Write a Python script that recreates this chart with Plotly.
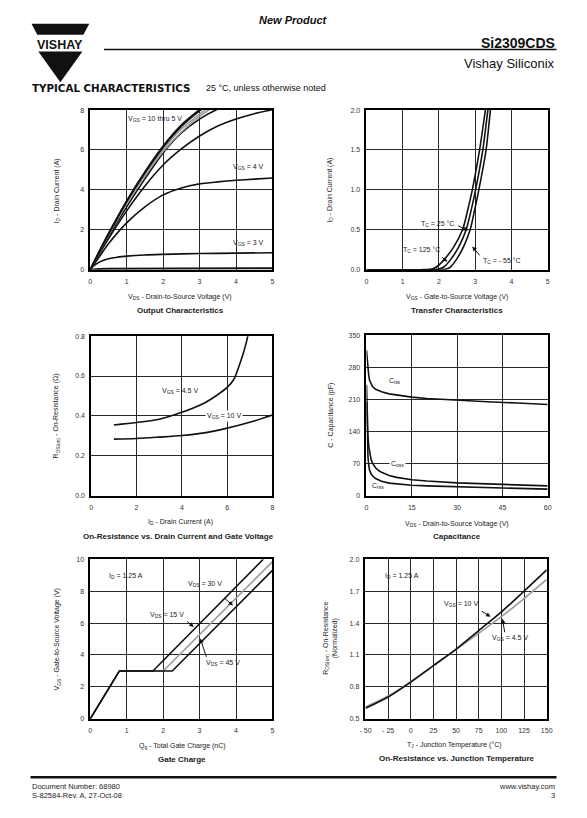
import plotly.graph_objects as go

W, H = 587, 818
FONT = "Liberation Sans, Arial, sans-serif"
BLACK = "#111111"
GREY = "#9a9a9a"
GRID = "#2a2a2a"

# ---------------- data ----------------
# Output characteristics
vds_out = [0, 0.25, 0.5, 1, 1.5, 2, 2.5, 3, 3.5, 4, 4.5, 5]
id_vgs10 = [0, 0.92, 1.80, 3.45, 4.90, 6.20, 7.25, 8.02, 8.70, 9.20, 9.60, 9.90]
id_vgs8 = [0, 0.91, 1.78, 3.42, 4.86, 6.14, 7.18, 7.96, 8.60, 9.10, 9.50, 9.80]
id_vgs6 = [0, 0.90, 1.75, 3.36, 4.78, 6.03, 7.05, 7.80, 8.45, 8.95, 9.35, 9.70]
id_vgs5 = [0, 0.89, 1.72, 3.30, 4.70, 5.92, 6.90, 7.68, 8.30, 8.80, 9.20, 9.50]
id_vgs45 = [0, 0.85, 1.65, 3.15, 4.55, 5.85, 6.85, 7.55, 8.05, 8.40, 8.70, 8.90]
id_vgs42 = [0, 0.80, 1.55, 2.95, 4.20, 5.25, 6.05, 6.70, 7.20, 7.55, 7.82, 8.02]
id_vgs4 = [0, 0.65, 1.30, 2.35, 3.15, 3.75, 4.10, 4.30, 4.40, 4.48, 4.54, 4.60]
vds_low = [0, 0.1, 0.25, 0.5, 0.75, 1, 1.5, 2, 3, 4, 5]
id_vgs3 = [0, 0.20, 0.38, 0.55, 0.63, 0.68, 0.74, 0.77, 0.81, 0.83, 0.85]
id_vgs2 = [0, 0.02, 0.04, 0.05, 0.05, 0.05, 0.05, 0.05, 0.07, 0.06, 0.07]

# Transfer characteristics
vgs_125 = [0, 1.5, 1.8, 1.95, 2.13, 2.4, 2.65, 2.8, 2.92, 3.12, 3.28, 3.4]
id_125 = [0, 0, 0.008, 0.04, 0.12, 0.28, 0.50, 0.76, 1.0, 1.5, 2.0, 2.4]
vgs_25 = [0, 1.7, 2.0, 2.15, 2.31, 2.55, 2.75, 2.89, 3.01, 3.21, 3.35, 3.45]
id_25 = [0, 0, 0.008, 0.04, 0.12, 0.29, 0.50, 0.75, 1.0, 1.5, 2.0, 2.3]
vgs_m55 = [0, 1.9, 2.2, 2.33, 2.47, 2.68, 2.86, 2.99, 3.1, 3.3, 3.42, 3.5]
id_m55 = [0, 0, 0.008, 0.04, 0.12, 0.29, 0.50, 0.76, 1.0, 1.5, 2.0, 2.3]

# On-resistance vs drain current
id_r45 = [1, 2, 3, 4, 5, 5.5, 6, 6.3, 6.5, 6.7, 6.85, 6.95]
r_45 = [0.355, 0.367, 0.383, 0.418, 0.465, 0.50, 0.543, 0.584, 0.642, 0.709, 0.77, 0.82]
id_r10 = [1, 2, 3, 4, 5, 6, 7, 8]
r_10 = [0.284, 0.287, 0.294, 0.302, 0.315, 0.339, 0.368, 0.405]

# Capacitance
vds_ciss = [0, 0.25, 0.5, 0.75, 1, 1.5, 2, 3, 4, 5, 7.5, 10, 15, 20, 30, 40, 50, 60]
c_iss = [317, 295, 275, 262, 252, 243, 238, 232, 229, 226.5, 222, 219.5, 215, 212, 208, 205, 202, 199]
vds_c = [0, 0.15, 0.3, 0.5, 0.75, 1, 1.5, 2, 3, 4, 5, 7.5, 10, 15, 20, 30, 45, 60]
c_oss = [242, 200, 165, 130, 108, 95, 80, 71, 61, 55, 51, 44, 40, 35, 32, 28, 24, 21.5]
c_rss = [205, 165, 120, 85, 66, 56, 48, 43.5, 37.5, 34, 31.5, 27.5, 25.5, 23, 21.5, 19.3, 16.8, 14.5]

# Gate charge
qg_15 = [0, 0.8, 1.72, 4.75]
vg_15 = [0, 3, 3, 10]
qg_30 = [0, 0.8, 2.0, 5.0]
vg_30 = [0, 3, 3, 9.85]
qg_45 = [0, 0.8, 2.25, 5.0]
vg_45 = [0, 3, 3, 9.3]

# On-resistance vs junction temperature
tj = [-50, -25, 0, 25, 50, 75, 100, 125, 150]
rn_10 = [0.60, 0.705, 0.845, 1.0, 1.155, 1.33, 1.505, 1.70, 1.90]
rn_45 = [0.612, 0.715, 0.85, 1.0, 1.15, 1.305, 1.46, 1.63, 1.81]

# tick labels
x1_ticks = [0, 1, 2, 3, 4, 5]
y1_ticks = [0, 2, 4, 6, 8]
y2_ticks = [0, 0.5, 1.0, 1.5, 2.0]
y2_text = ["0.0", "0.5", "1.0", "1.5", "2.0"]
x3_ticks = [0, 2, 4, 6, 8]
y3_ticks = [0, 0.2, 0.4, 0.6, 0.8]
y3_text = ["0.0", "0.2", "0.4", "0.6", "0.8"]
x4_ticks = [0, 15, 30, 45, 60]
y4_ticks = [0, 70, 140, 210, 280, 350]
y5_ticks = [0, 2, 4, 6, 8, 10]
x6_ticks = [-50, -25, 0, 25, 50, 75, 100, 125, 150]
x6_text = ["- 50", "- 25", "0", "25", "50", "75", "100", "125", "150"]
y6_ticks = [0.5, 0.8, 1.1, 1.4, 1.7, 2.0]
y6_text = ["0.5", "0.8", "1.1", "1.4", "1.7", "2.0"]

# ---------------- panels (pixel boxes) ----------------
panels = [
    dict(px=(86, 272), py=(107, 268), xr=(0, 5), yr=(0, 8), xt=x1_ticks, xl=None, yt=y1_ticks, yl=None),
    dict(px=(368, 553), py=(107, 268), xr=(0, 5), yr=(0, 2), xt=x1_ticks, xl=None, yt=y2_ticks, yl=y2_text),
    dict(px=(87, 272), py=(335, 496), xr=(0, 8), yr=(0, 0.8), xt=x3_ticks, xl=None, yt=y3_ticks, yl=y3_text),
    dict(px=(368, 553), py=(334, 496), xr=(0, 60), yr=(0, 350), xt=x4_ticks, xl=None, yt=y4_ticks, yl=None),
    dict(px=(86, 272), py=(560, 721), xr=(0, 5), yr=(0, 10), xt=x1_ticks, xl=None, yt=y5_ticks, yl=None),
    dict(px=(367, 552), py=(560, 721), xr=(-50, 150), yr=(0.5, 2.0), xt=x6_ticks, xl=x6_text, yt=y6_ticks, yl=y6_text),
]

fig = go.Figure()
layout = dict(width=W, height=H, margin=dict(l=0, r=0, t=0, b=0),
              paper_bgcolor="white", plot_bgcolor="white", showlegend=False,
              font=dict(family=FONT, color="#222", size=7))

for i, p in enumerate(panels, start=1):
    sfx = "" if i == 1 else str(i)
    xa = dict(domain=[p["px"][0] / W, p["px"][1] / W], range=list(p["xr"]), anchor="y" + sfx,
              tickvals=p["xt"], showgrid=True, gridcolor=GRID, gridwidth=1.3,
              showline=True, mirror=True, linecolor="black", linewidth=1.6, zeroline=False,
              ticks="outside", ticklen=4, tickcolor="rgba(0,0,0,0)",
              tickfont=dict(size=7, color="#333", family=FONT), fixedrange=True)
    if p["xl"]:
        xa["ticktext"] = p["xl"]
    ya = dict(domain=[1 - p["py"][1] / H, 1 - p["py"][0] / H], range=list(p["yr"]), anchor="x" + sfx,
              tickvals=p["yt"], showgrid=True, gridcolor=GRID, gridwidth=1.3,
              showline=True, mirror=True, linecolor="black", linewidth=1.6, zeroline=False,
              ticks="outside", ticklen=3, tickcolor="rgba(0,0,0,0)",
              tickfont=dict(size=7, color="#333", family=FONT), fixedrange=True)
    if p["yl"]:
        ya["ticktext"] = p["yl"]
    layout["xaxis" + sfx] = xa
    layout["yaxis" + sfx] = ya


def line(x, y, ax, color=BLACK, width=1.6, shape="spline"):
    sfx = "" if ax == 1 else str(ax)
    fig.add_trace(go.Scatter(x=x, y=y, mode="lines", xaxis="x" + sfx, yaxis="y" + sfx,
                             line=dict(color=color, width=width, shape=shape,
                                       smoothing=0.8 if shape == "spline" else None),
                             hoverinfo="skip"))


# panel 1
line(vds_low, id_vgs2, 1, width=2.0, shape="linear")
line(vds_low, id_vgs3, 1)
line(vds_out, id_vgs4, 1)
line(vds_out, id_vgs42, 1)
line(vds_out, id_vgs45, 1)
line(vds_out, id_vgs5, 1, color=GREY)
line(vds_out, id_vgs6, 1, color=GREY)
line(vds_out, id_vgs8, 1, width=1.8)
line(vds_out, id_vgs10, 1, width=1.8)
# panel 2
line(vgs_125, id_125, 2)
line(vgs_25, id_25, 2)
line(vgs_m55, id_m55, 2)
# panel 3
line(id_r45, r_45, 3)
line(id_r10, r_10, 3)
# panel 4
line(vds_ciss, c_iss, 4, shape="linear")
line(vds_c, c_oss, 4, shape="linear")
line(vds_c, c_rss, 4, shape="linear")
# panel 5
line(qg_30, vg_30, 5, color=GREY, shape="linear")
line(qg_15, vg_15, 5, shape="linear")
line(qg_45, vg_45, 5, shape="linear")
# panel 6
line(tj, rn_45, 6, color=GREY)
line(tj, rn_10, 6)

ann = []


def T(x, y, text, size=7, xanchor="center", yanchor="middle", angle=0, color="#222", family=FONT):
    ann.append(dict(x=x / W, y=1 - y / H, xref="paper", yref="paper", text=text, showarrow=False,
                    xanchor=xanchor, yanchor=yanchor, textangle=angle,
                    font=dict(size=size, color=color, family=family)))


def D(ax, x, y, text, size=7, xanchor="center", bg=None):
    sfx = "" if ax == 1 else str(ax)
    d = dict(x=x, y=y, xref="x" + sfx, yref="y" + sfx, text=text, showarrow=False,
             xanchor=xanchor, yanchor="middle", font=dict(size=size, color="#222", family=FONT))
    if bg:
        d["bgcolor"] = bg
        d["borderpad"] = 1
    ann.append(d)


def A(ax, x0, y0, x1, y1):
    sfx = "" if ax == 1 else str(ax)
    ann.append(dict(x=x1, y=y1, ax=x0, ay=y0, xref="x" + sfx, yref="y" + sfx,
                    axref="x" + sfx, ayref="y" + sfx, text="", showarrow=True,
                    arrowhead=2, arrowsize=0.9, arrowwidth=1, arrowcolor="#111",
                    font=dict(size=7)))


# header
T(293, 16, "<b><i>New Product</i></b>", size=11, color="#111")
T(562, 39, "<b>Si2309CDS</b>", size=14, xanchor="right", color="#111")
T(562, 60, "Vishay Siliconix", size=13, xanchor="right", color="#111")
T(55, 41.5, "<b>VISHAY</b>", size=12.5, color="#111")
T(25, 85, "<b>TYPICAL CHARACTERISTICS</b>", size=10.3, xanchor="left", color="#111",
  family="DejaVu Sans, sans-serif")
T(202, 85, "25 °C, unless otherwise noted", size=9, xanchor="left", color="#111")
# footer
T(25, 789, "Document Number: 68980", size=7.5, xanchor="left")
T(25, 798, "S-82584-Rev. A, 27-Oct-08", size=7.5, xanchor="left")
T(562, 789, "www.vishay.com", size=7.5, xanchor="right")
T(562, 798, "3", size=7.5, xanchor="right")

# axis titles and chart titles
T(52, 188, "I<sub>D</sub> - Drain Current (A)", angle=-90)
T(178, 296, "V<sub>DS</sub> - Drain-to-Source Voltage (V)")
T(178, 309.5, "<b>Output Characteristics</b>", size=8)
T(331, 188, "I<sub>D</sub> - Drain Current (A)", angle=-90)
T(460, 296, "V<sub>GS</sub> - Gate-to-Source Voltage (V)")
T(460, 309.5, "<b>Transfer Characteristics</b>", size=8)
T(52, 415, "R<sub>DS(on)</sub> - On-Resistance (Ω)", angle=-90)
T(178, 522, "I<sub>D</sub> - Drain Current (A)")
T(176, 537.5, "<b>On-Resistance vs. Drain Current and Gate Voltage</b>", size=8)
T(332, 415, "C - Capacitance (pF)", angle=-90)
T(460, 524, "V<sub>DS</sub> - Drain-to-Source Voltage (V)")
T(460, 537.5, "<b>Capacitance</b>", size=8)
T(52, 641, "V<sub>GS</sub> - Gate-to-Source Voltage (V)", angle=-90)
T(180, 748, "Q<sub>g</sub> - Total Gate Charge (nC)")
T(180, 762, "<b>Gate Charge</b>", size=8)
T(331, 640, "R<sub>DS(on)</sub> - On-Resistance<br>(Normalized)", angle=-90)
T(458, 747, "T<sub>J</sub> - Junction Temperature (°C)")
T(460, 761.5, "<b>On-Resistance vs. Junction Temperature</b>", size=8)

# in-plot labels
D(1, 1.77, 7.56, "V<sub>GS</sub> = 10 thru 5 V")
D(1, 4.35, 5.17, "V<sub>GS</sub> = 4 V")
D(1, 4.35, 1.34, "V<sub>GS</sub> = 3 V")

D(2, 1.97, 0.57, "T<sub>C</sub> = 25 °C")
A(2, 2.49, 0.56, 2.80, 0.49)
D(2, 1.51, 0.25, "T<sub>C</sub> = 125 °C")
A(2, 2.05, 0.17, 2.23, 0.10)
D(2, 3.73, 0.11, "T<sub>C</sub> = - 55 °C")
A(2, 3.16, 0.16, 2.92, 0.29)

D(3, 3.94, 0.524, "V<sub>GS</sub> = 4.5 V")
D(3, 5.84, 0.40, "V<sub>GS</sub> = 10 V", bg="white")

D(4, 9.4, 249, "C<sub>iss</sub>")
D(4, 10.4, 70, "C<sub>oss</sub>", bg="white")
D(4, 3.9, 22, "C<sub>rss</sub>")

D(5, 0.45, 8.96, "I<sub>D</sub> = 1.25 A", xanchor="left")
D(5, 3.15, 8.45, "V<sub>DS</sub> = 30 V")
A(5, 3.65, 7.62, 3.92, 7.10)
D(5, 2.12, 6.48, "V<sub>DS</sub> = 15 V")
A(5, 2.62, 6.17, 2.84, 5.76)
D(5, 3.65, 3.48, "V<sub>DS</sub> = 45 V")
A(5, 3.20, 3.79, 3.02, 5.03)

D(6, -30.5, 1.84, "I<sub>D</sub> = 1.25 A", xanchor="left")
D(6, 55, 1.58, "V<sub>GS</sub> = 10 V")
A(6, 76.5, 1.52, 88, 1.46)
D(6, 110, 1.255, "V<sub>GS</sub> = 4.5 V")
A(6, 104, 1.30, 101, 1.44)

layout["annotations"] = ann


def P(x, y):
    return f"{x / W:.5f},{1 - y / H:.5f}"


shapes = [
    dict(type="path", xref="paper", yref="paper",
         path=f"M {P(26, 20)} L {P(85, 20)} L {P(79, 31)} L {P(32, 31)} Z",
         fillcolor="#111", line=dict(width=0)),
    dict(type="path", xref="paper", yref="paper",
         path=f"M {P(33, 48)} L {P(78, 48)} L {P(55.5, 79)} Z",
         fillcolor="#111", line=dict(width=0)),
    dict(type="line", xref="paper", yref="paper", x0=100 / W, x1=562 / W, y0=1 - 46 / H, y1=1 - 46 / H,
         line=dict(color="#111", width=1.5)),
    dict(type="line", xref="paper", yref="paper", x0=25 / W, x1=562 / W, y0=1 - 780 / H, y1=1 - 780 / H,
         line=dict(color="#111", width=2.5)),
]
layout["shapes"] = shapes

fig.update_layout(**layout)
fig.write_html("out.html", config={"displayModeBar": False},
               post_script="document.body.style.margin='0';document.body.style.overflow='hidden';")
